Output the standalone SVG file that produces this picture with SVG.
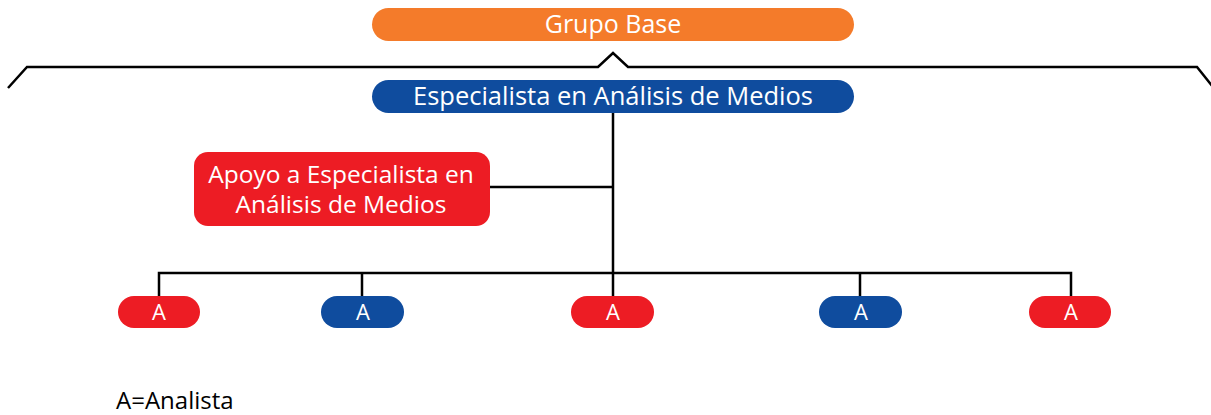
<svg xmlns="http://www.w3.org/2000/svg" width="1211" height="415" viewBox="0 0 1211 415">
<style>
.t{font-family:"Open Sans","Noto Sans","Liberation Sans",sans-serif;fill:#fff;text-anchor:middle}
.ln{fill:none;stroke:#000;stroke-width:2.5}
.red{fill:#ED1C24}.blue{fill:#0F4C9E}.org{fill:#F47B2A}
</style>
<rect width="1211" height="415" fill="#fff"/>
<g id="connectors">
<path class="ln" d="M8,88 L27,67 L598,67 L613,53 L628,67 L1197,67 L1213,87"/>
<path class="ln" d="M613,113 V296 M490,187 H613 M159,296 V273 H1071 V296 M362,273 V296 M860,273 V296"/>
</g>
<g id="grupo-base"><rect class="org" x="372" y="8" width="482" height="33" rx="16.5"/><text class="t" x="613" y="33" font-size="25">Grupo Base</text></g>
<g id="especialista"><rect class="blue" x="372" y="80" width="482" height="33" rx="16.5"/><text class="t" x="613" y="105" font-size="25.5">Especialista en Análisis de Medios</text></g>
<g id="apoyo"><rect class="red" x="194" y="152" width="296" height="74" rx="14"/><text class="t" x="341" y="183" font-size="24.5">Apoyo a Especialista en</text><text class="t" x="341" y="213" font-size="24.5">Análisis de Medios</text></g>
<g id="a1"><rect class="red" x="118" y="296" width="82" height="32" rx="16"/><text class="t" x="159" y="320" font-size="22">A</text></g>
<g id="a2"><rect class="blue" x="321" y="296" width="83" height="32" rx="16"/><text class="t" x="363" y="320" font-size="22">A</text></g>
<g id="a3"><rect class="red" x="571" y="296" width="83" height="32" rx="16"/><text class="t" x="613" y="320" font-size="22">A</text></g>
<g id="a4"><rect class="blue" x="819" y="296" width="83" height="32" rx="16"/><text class="t" x="861" y="320" font-size="22">A</text></g>
<g id="a5"><rect class="red" x="1029" y="296" width="82" height="32" rx="16"/><text class="t" x="1071" y="320" font-size="22">A</text></g>
<text x="116" y="409" font-size="24" font-family="'Open Sans','Noto Sans','Liberation Sans',sans-serif" fill="#000">A=Analista</text>
</svg>
